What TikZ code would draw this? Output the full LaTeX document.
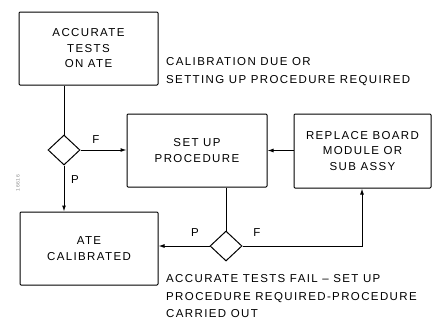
\documentclass[tikz,border=0pt]{standalone}
\usepackage{fontspec}
\setmainfont{Liberation Sans}[LetterSpace=12]
\usetikzlibrary{shapes.geometric,arrows.meta}
\begin{document}
\begin{tikzpicture}[x=1pt,y=-1pt,
  every node/.style={font=\fontsize{11.5}{15.5}\selectfont, inner sep=0pt},
  box/.style={draw, line width=1pt, rounded corners=1pt, align=center},
  dec/.style={draw, diamond, line width=1pt, minimum width=32pt, minimum height=30pt, aspect=1},
  conn/.style={line width=1pt},
  arr/.style={conn, -{Latex[length=6pt,width=4pt]}},
  lbl/.style={font=\fontsize{11.5}{17.5}\selectfont}]
\useasboundingbox (0,0) rectangle (433,322);
% boxes
\node[box, minimum width=139pt, minimum height=73pt] (ate) at (88.5,48.5) {ACCURATE\\TESTS\\ON ATE};
\node[box, minimum width=140pt, minimum height=73pt] (setup) at (197,150.5) {SET UP\\PROCEDURE};
\node[box, minimum width=137pt, minimum height=74pt] (repl) at (362.5,151) {REPLACE BOARD\\MODULE OR\\SUB ASSY};
\node[box, minimum width=138pt, minimum height=73pt] (cal) at (89,248.5) {ATE\\CALIBRATED};
% decisions
\node[dec] (d1) at (64,150) {};
\node[dec] (d2) at (226,246) {};
% connectors
\draw[conn] (ate.south -| d1) -- (d1.north);
\draw[arr] (d1.east) -- (setup.west |- d1);
\draw[arr] (d1.south) -- (d1 |- cal.north);
\draw[arr] (repl.west |- setup) -- (setup.east);
\draw[conn] (setup.south -| d2) -- (d2.north);
\draw[arr] (d2.west) -- (cal.east |- d2);
\coordinate (c1) at (362,246);
\draw[arr] (d2.east) -- (c1) -- (c1 |- repl.south);
% labels
\node[lbl] (lf1) at (96,140) {F};
\node[lbl] (lp1) at (75,180) {P};
\node[lbl] (lp2) at (195,233) {P};
\node[lbl] (lf2) at (257,233) {F};
\node[lbl, anchor=west, align=left] (n1) at (166,71.5) {CALIBRATION DUE OR\\SETTING UP PROCEDURE REQUIRED};
\node[lbl, anchor=west, align=left] (n2) at (166,296.5) {ACCURATE TESTS FAIL -- SET UP\\PROCEDURE REQUIRED-PROCEDURE\\CARRIED OUT};
\node[font=\fontsize{5}{6}\selectfont, text=black!45, rotate=90] (id) at (18,183) {16616};
\end{tikzpicture}
\end{document}
